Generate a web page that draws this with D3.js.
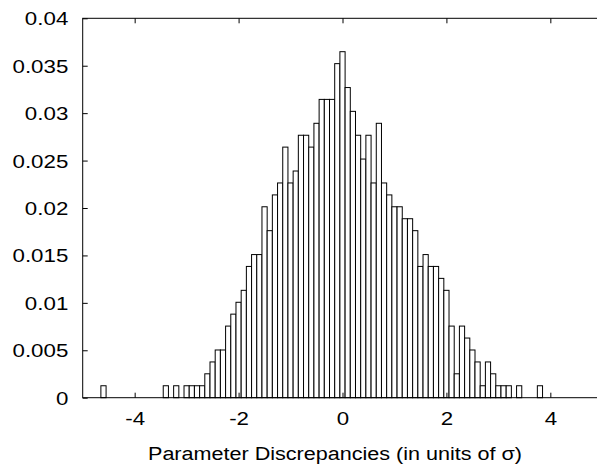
<!DOCTYPE html>
<html><head><meta charset="utf-8">
<script src="https://cdn.jsdelivr.net/npm/d3@7"></script>
<style>body{margin:0;background:#fff}svg{display:block}</style>
</head><body><svg id="c" width="597" height="466"></svg>
<script>
// Histogram bins (centre of each 0.1-wide bin) and fraction of entries per bin
const binCenters = [-4.6, -3.4, -3.2, -3.0, -2.9, -2.8, -2.7, -2.6, -2.5, -2.4, -2.3, -2.2, -2.1, -2.0,
  -1.9, -1.8, -1.7, -1.6, -1.5, -1.4, -1.3, -1.2, -1.1, -1.0, -0.9, -0.8, -0.7, -0.6, -0.5, -0.4,
  -0.3, -0.2, -0.1, 0.0, 0.1, 0.2, 0.3, 0.4, 0.5, 0.6, 0.7, 0.8, 0.9, 1.0, 1.1, 1.2, 1.3, 1.4,
  1.5, 1.6, 1.7, 1.8, 1.9, 2.0, 2.1, 2.2, 2.3, 2.4, 2.5, 2.6, 2.7, 2.8, 2.9, 3.0, 3.1, 3.2, 3.4, 3.8];
const binValues = [0.00126, 0.00126, 0.00126, 0.00126, 0.00126, 0.00126, 0.00126, 0.00252, 0.00377, 0.00503,
  0.00503, 0.00755, 0.00881, 0.01006, 0.01132, 0.01384, 0.01509, 0.01509, 0.02013, 0.01761, 0.02138,
  0.02264, 0.02642, 0.02264, 0.02390, 0.02767, 0.02767, 0.02642, 0.02893, 0.03145, 0.03145, 0.03145,
  0.03522, 0.03648, 0.03270, 0.03019, 0.02767, 0.02516, 0.02767, 0.02264, 0.02893, 0.02264, 0.02138,
  0.02013, 0.02013, 0.01887, 0.01887, 0.01761, 0.01384, 0.01509, 0.01384, 0.01384, 0.01258, 0.01132,
  0.00755, 0.00252, 0.00755, 0.00629, 0.00503, 0.00377, 0.00126, 0.00377, 0.00252, 0.00126, 0.00126,
  0.00126, 0.00126, 0.00126];
const binWidth = 0.1;
const xTicks = [-4, -2, 0, 2, 4];
const xTickLabels = ["-4", "-2", "0", "2", "4"];
const yTicks = [0, 0.005, 0.01, 0.015, 0.02, 0.025, 0.03, 0.035, 0.04];
const yTickLabels = ["0", "0.005", "0.01", "0.015", "0.02", "0.025", "0.03", "0.035", "0.04"];
const xLabel = "Parameter Discrepancies (in units of \u03c3)";

const L = 82.7, R = 602.3, T = 18.3, B = 397.7;
const SX = 1.24; // horizontal stretch of glyphs in the reference
const font = "'Liberation Sans', Arial, Helvetica, sans-serif";

const svg = d3.select("#c");
const x = d3.scaleLinear().domain([-5, 5]).range([L, R]);
const y = d3.scaleLinear().domain([0, 0.04]).range([B, T]);

// bars
svg.append("g").selectAll("rect")
  .data(binCenters.map((c, i) => ({c, v: binValues[i]})))
  .join("rect")
  .attr("x", d => x(d.c - binWidth / 2))
  .attr("width", d => x(d.c + binWidth / 2) - x(d.c - binWidth / 2))
  .attr("y", d => y(d.v))
  .attr("height", d => y(0) - y(d.v))
  .attr("fill", "#fff")
  .attr("stroke", "#000")
  .attr("stroke-width", 1);

function styleAxis(g) {
  g.select(".domain").remove();
  g.selectAll(".tick line").attr("stroke", "#000");
  g.selectAll("text").attr("font-family", font).attr("font-size", 18).attr("fill", "#000");
}

// bottom axis
const gx = svg.append("g").attr("transform", `translate(0,${B})`)
  .call(d3.axisBottom(x).tickValues(xTicks).tickFormat((d, i) => xTickLabels[i]).tickSize(-5));
styleAxis(gx);
gx.selectAll("text").attr("y", 26.9).attr("dy", 0).attr("transform", `scale(${SX},1)`);

// top mirror ticks
const gxt = svg.append("g").attr("transform", `translate(0,${T})`)
  .call(d3.axisTop(x).tickValues(xTicks).tickFormat("").tickSize(-5));
styleAxis(gxt);

// left axis
const gy = svg.append("g").attr("transform", `translate(${L},0)`)
  .call(d3.axisLeft(y).tickValues(yTicks).tickFormat((d, i) => yTickLabels[i]).tickSize(-5));
styleAxis(gy);
gy.selectAll("text").attr("x", -14.4 / SX).attr("dy", "0.36em").attr("transform", `scale(${SX},1)`);

// right mirror ticks
const gyr = svg.append("g").attr("transform", `translate(${R},0)`)
  .call(d3.axisRight(y).tickValues(yTicks).tickFormat("").tickSize(-5));
styleAxis(gyr);

// frame
svg.append("rect").attr("x", L).attr("y", T).attr("width", R - L).attr("height", B - T)
  .attr("fill", "none").attr("stroke", "#000").attr("stroke-width", 1);

// x label
svg.append("text").attr("x", 335).attr("y", 460).attr("text-anchor", "middle")
  .attr("font-family", font).attr("font-size", 18).attr("fill", "#000")
  .attr("textLength", 374).attr("lengthAdjust", "spacingAndGlyphs")
  .text(xLabel);
</script></body></html>
